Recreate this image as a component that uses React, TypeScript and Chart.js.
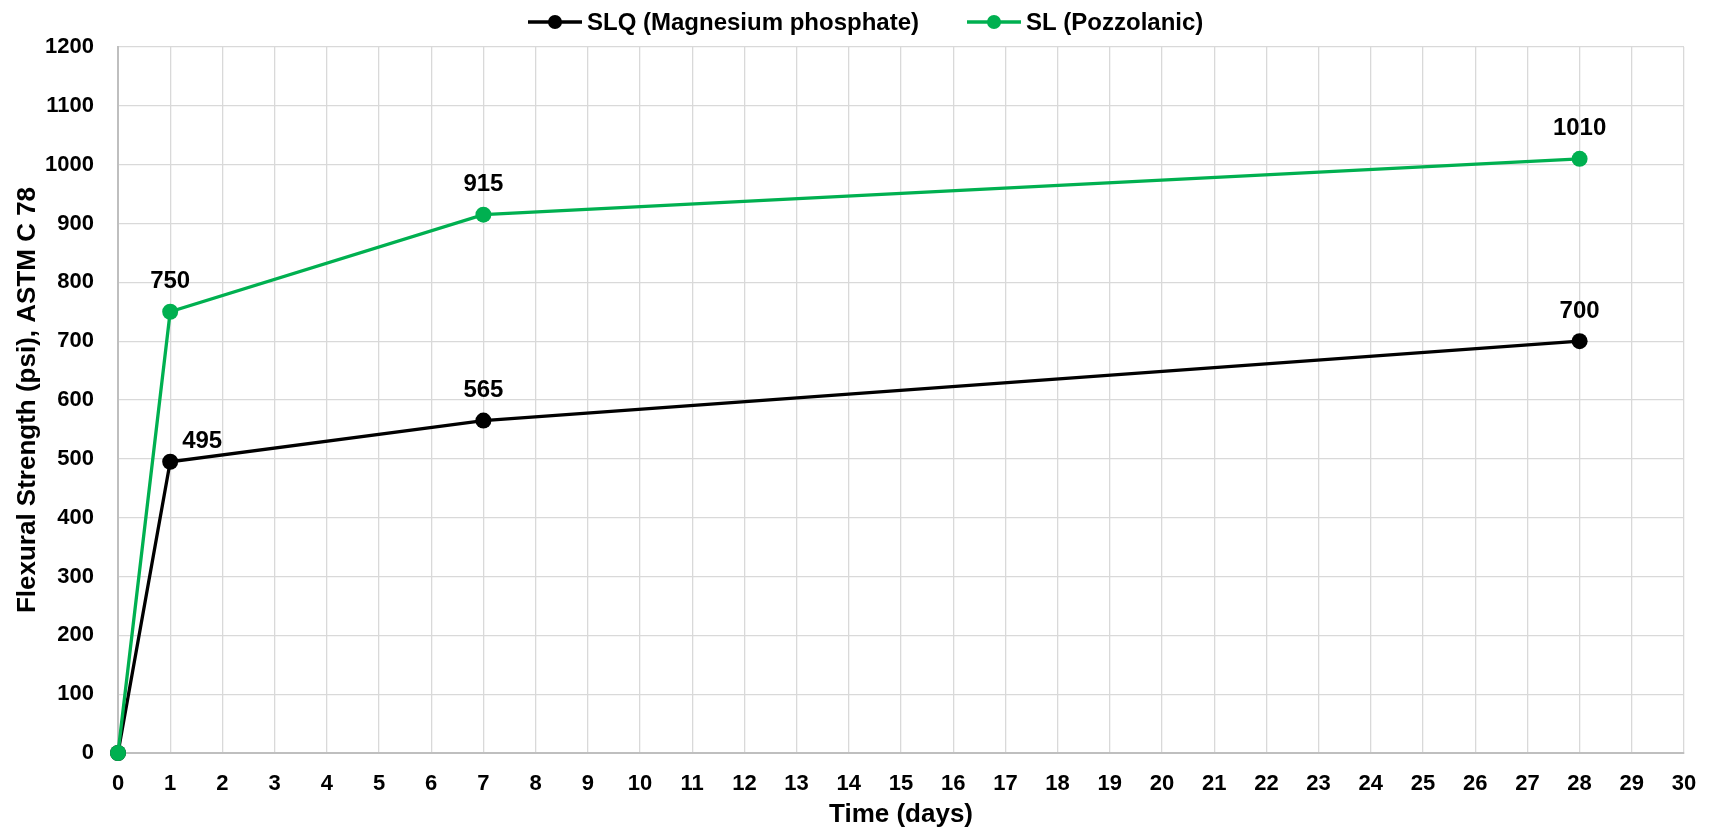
import React, { useEffect, useRef } from "react";
import { Chart, registerables } from "chart.js";

Chart.register(...registerables);

const days = [0, 1, 7, 28];
const slqValues = [0, 495, 565, 700];
const slValues = [0, 750, 915, 1010];
const seriesNames = ["SLQ (Magnesium phosphate)", "SL (Pozzolanic)"];
const seriesColors = ["#000000", "#00b050"];
const xTitle = "Time (days)";
const yTitle = "Flexural Strength (psi), ASTM C 78";

const FONT = "'Liberation Sans', Arial, sans-serif";

export default function App() {
  const ref = useRef<HTMLCanvasElement | null>(null);
  useEffect(() => {
    document.body.style.margin = "0";
    const canvas = ref.current!;
    const labelPlugin = {
      id: "customLabels",
      afterDatasetsDraw(chart: any) {
        const ctx = chart.ctx;
        ctx.save();
        ctx.font = `bold 24px ${FONT}`;
        ctx.fillStyle = "#000";
        ctx.textAlign = "center";
        ctx.textBaseline = "middle";
        chart.data.datasets.forEach((ds: any, di: number) => {
          const meta = chart.getDatasetMeta(di);
          meta.data.forEach((pt: any, i: number) => {
            const v = ds.data[i].y;
            if (v === 0) return;
            let dx = 0;
            let dy = -30;
            if (di === 0 && i === 1) {
              dx = 32;
              dy = -20;
            }
            ctx.fillText(String(v), pt.x + dx, pt.y + dy);
          });
        });
        ctx.restore();
      },
      afterDraw(chart: any) {
        const ctx = chart.ctx;
        ctx.save();
        ctx.font = `bold 24px ${FONT}`;
        ctx.textBaseline = "middle";
        ctx.textAlign = "left";
        const items = [
          { x: 528, name: seriesNames[0], color: seriesColors[0] },
          { x: 967, name: seriesNames[1], color: seriesColors[1] },
        ];
        const y = 22;
        items.forEach((it) => {
          ctx.strokeStyle = it.color;
          ctx.lineWidth = 3.3;
          ctx.beginPath();
          ctx.moveTo(it.x, y);
          ctx.lineTo(it.x + 54, y);
          ctx.stroke();
          ctx.fillStyle = it.color;
          ctx.beginPath();
          ctx.arc(it.x + 27, y, 7, 0, Math.PI * 2);
          ctx.fill();
          ctx.fillStyle = "#000";
          ctx.fillText(it.name, it.x + 59, y + 1);
        });
        ctx.restore();
      },
    };

    const chart = new Chart(canvas, {
      type: "line",
      data: {
        datasets: [
          {
            label: seriesNames[0],
            data: days.map((d, i) => ({ x: d, y: slqValues[i] })),
            borderColor: seriesColors[0],
            backgroundColor: seriesColors[0],
            borderWidth: 3.3,
            pointRadius: 8,
            pointHoverRadius: 8,
            pointBorderWidth: 0,
            clip: false,
            order: 2,
          },
          {
            label: seriesNames[1],
            data: days.map((d, i) => ({ x: d, y: slValues[i] })),
            borderColor: seriesColors[1],
            backgroundColor: seriesColors[1],
            borderWidth: 3.3,
            pointRadius: 8,
            pointHoverRadius: 8,
            pointBorderWidth: 0,
            clip: false,
            order: 1,
          },
        ],
      },
      options: {
        responsive: false,
        animation: false,
        layout: { padding: { top: 47, right: 26, left: 0, bottom: 0 } },
        plugins: {
          legend: { display: false },
          tooltip: { enabled: false },
        },
        scales: {
          x: {
            type: "linear",
            min: 0,
            max: 30,
            ticks: {
              stepSize: 1,
              color: "#000",
              font: { family: FONT, size: 22, weight: "bold" },
              padding: 18,
            },
            grid: { color: "#d9d9d9", lineWidth: 1.3, drawTicks: false },
            border: { color: "#bfbfbf", width: 2 },
            title: {
              display: true,
              text: xTitle,
              color: "#000",
              font: { family: FONT, size: 26, weight: "bold" },
              padding: { top: 0, bottom: 2 },
            },
            afterFit: (s: any) => {
              s.height = 79;
              s.paddingRight = 0;
              s.paddingLeft = 0;
            },
          },
          y: {
            min: 0,
            max: 1200,
            ticks: {
              stepSize: 100,
              color: "#000",
              font: { family: FONT, size: 22, weight: "bold" },
              padding: 24,
              callback: (v: any) => String(v),
            },
            grid: { color: "#d9d9d9", lineWidth: 1.3, drawTicks: false },
            border: { color: "#bfbfbf", width: 2 },
            title: {
              display: true,
              text: yTitle,
              color: "#000",
              font: { family: FONT, size: 26, weight: "bold" },
              padding: { top: 12, bottom: 0 },
            },
            afterFit: (s: any) => {
              s.width = 118;
            },
          },
        },
      },
      plugins: [labelPlugin],
    } as any);
    return () => chart.destroy();
  }, []);
  return (
    <div style={{ width: 1710, height: 832 }}>
      <canvas ref={ref} width={1710} height={832} style={{ display: "block" }} />
    </div>
  );
}
